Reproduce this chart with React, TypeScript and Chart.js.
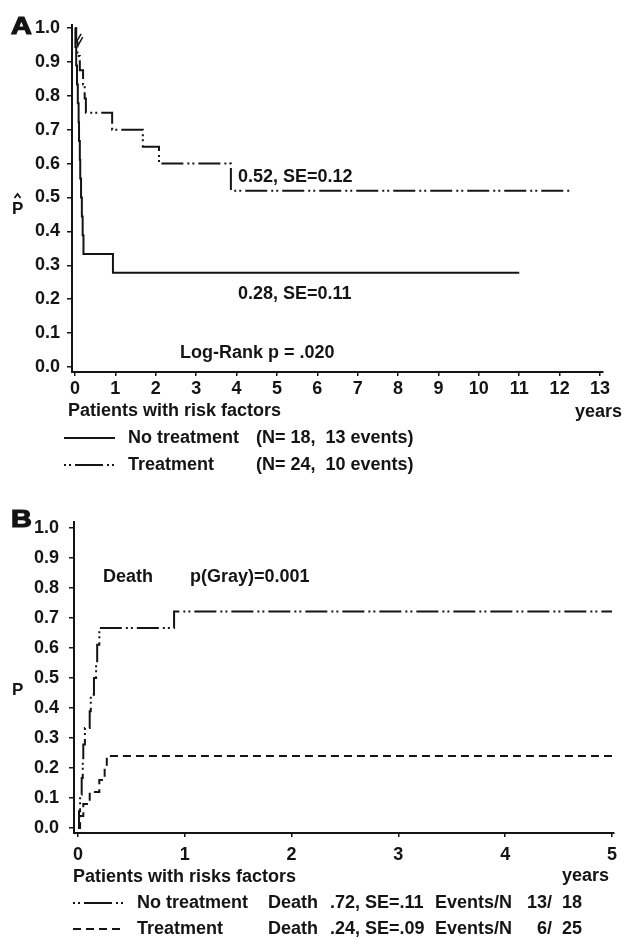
import React, { useEffect, useRef } from "react";
import { Chart, registerables } from "chart.js";

Chart.register(...registerables);

// ---------- Panel A: Kaplan-Meier survival ----------
const aNoTreatTimes = [0, 0.01, 0.03, 0.05, 0.07, 0.09, 0.1, 0.12, 0.13, 0.15, 0.17, 0.19, 0.21, 0.94, 11.0];
const aNoTreatSurv = [1, 0.944, 0.889, 0.833, 0.778, 0.722, 0.667, 0.611, 0.556, 0.5, 0.444, 0.389, 0.333, 0.278, 0.278];
const aTreatTimes = [0, 0.03, 0.06, 0.12, 0.2, 0.24, 0.27, 0.92, 1.68, 2.08, 3.86, 12.25];
const aTreatSurv = [1, 0.958, 0.917, 0.875, 0.833, 0.792, 0.75, 0.7, 0.65, 0.6, 0.52, 0.52];
const aCensorTimes = [0.09, 0.13];
const aCensorSurv = [0.97, 0.96];
const aXTicks = [0, 1, 2, 3, 4, 5, 6, 7, 8, 9, 10, 11, 12, 13];
const aYTicks = [0, 0.1, 0.2, 0.3, 0.4, 0.5, 0.6, 0.7, 0.8, 0.9, 1.0];

// ---------- Panel B: cumulative incidence of death ----------
const bNoTreatTimes = [0, 0.01, 0.02, 0.035, 0.045, 0.05, 0.065, 0.11, 0.12, 0.15, 0.17, 0.18, 0.2, 0.9, 5.0];
const bNoTreatCif = [0, 0.056, 0.111, 0.167, 0.222, 0.278, 0.333, 0.389, 0.444, 0.5, 0.556, 0.611, 0.667, 0.722, 0.722];
const bTreatTimes = [0, 0.02, 0.05, 0.11, 0.2, 0.25, 0.27, 5.0];
const bTreatCif = [0, 0.04, 0.08, 0.12, 0.16, 0.2, 0.24, 0.24];
const bXTicks = [0, 1, 2, 3, 4, 5];
const bYTicks = [0, 0.1, 0.2, 0.3, 0.4, 0.5, 0.6, 0.7, 0.8, 0.9, 1.0];

const INK = "#141414";
const FONT = "'Liberation Sans', Arial, sans-serif";
const DASH_DOT_DOT = [22, 4, 2, 3, 2, 4];
const DASHED = [8, 5];

type Txt = { t: string; x: number; y: number; size?: number };

function pts(xs: number[], ys: number[]) {
  return xs.map((x, i) => ({ x, y: ys[i] }));
}

function makeTextPlugin(id: string, texts: Txt[], extra: (ctx: CanvasRenderingContext2D) => void) {
  return {
    id,
    afterDraw(chart: any) {
      const ctx: CanvasRenderingContext2D = chart.ctx;
      ctx.save();
      ctx.fillStyle = INK;
      ctx.textBaseline = "middle";
      ctx.textAlign = "left";
      for (const tx of texts) {
        ctx.font = `bold ${tx.size || 18}px ${FONT}`;
        ctx.fillText(tx.t, tx.x, tx.y);
      }
      extra(ctx);
      ctx.restore();
    },
  };
}

function bigLetter(ctx: CanvasRenderingContext2D, s: string, x: number, baseline: number) {
  ctx.save();
  ctx.translate(x, baseline);
  ctx.scale(1.2, 1);
  ctx.font = `bold 24px ${FONT}`;
  ctx.textBaseline = "alphabetic";
  ctx.fillStyle = INK;
  ctx.strokeStyle = INK;
  ctx.lineWidth = 1.2;
  ctx.fillText(s, 0, 0);
  ctx.strokeText(s, 0, 0);
  ctx.restore();
}

function sampleLine(ctx: CanvasRenderingContext2D, x1: number, x2: number, y: number, dash: number[]) {
  ctx.save();
  ctx.strokeStyle = INK;
  ctx.lineWidth = 2;
  ctx.setLineDash(dash);
  ctx.beginPath();
  ctx.moveTo(x1, y);
  ctx.lineTo(x2, y);
  ctx.stroke();
  ctx.restore();
}

function axisOpts(ticks: number[], min: number, max: number, fmt: (v: number) => string, fit: (s: any) => void, tickLen: number, pad: number) {
  return {
    type: "linear" as const,
    min,
    max,
    afterBuildTicks: (axis: any) => {
      axis.ticks = ticks.map((v) => ({ value: v }));
    },
    afterFit: fit,
    ticks: {
      color: INK,
      font: { family: FONT, weight: "bold" as const, size: 18 },
      padding: pad,
      autoSkip: false,
      maxRotation: 0,
      callback: (v: any) => fmt(Number(v)),
    },
    grid: {
      display: true,
      drawOnChartArea: false,
      drawTicks: true,
      tickLength: tickLen,
      color: INK,
      lineWidth: 1.5,
    },
    border: { display: true, color: INK, width: 2 },
  };
}

function PanelA() {
  const ref = useRef<HTMLCanvasElement>(null);
  useEffect(() => {
    if (!ref.current) return;
    const texts: Txt[] = [
      { t: "0.52, SE=0.12", x: 238, y: 177 },
      { t: "0.28, SE=0.11", x: 238, y: 294 },
      { t: "Log-Rank p = .020", x: 180, y: 353 },
      { t: "Patients with risk factors", x: 68, y: 411 },
      { t: "years", x: 575, y: 412 },
      { t: "No treatment", x: 128, y: 438 },
      { t: "(N= 18,  13 events)", x: 256, y: 438 },
      { t: "Treatment", x: 128, y: 465 },
      { t: "(N= 24,  10 events)", x: 256, y: 465 },
    ];
    const plugin = makeTextPlugin("textA", texts, (ctx) => {
      ctx.fillStyle = INK;
      bigLetter(ctx, "A", 11, 34);
      ctx.font = `bold 17px ${FONT}`;
      ctx.textBaseline = "alphabetic";
      ctx.fillText("P", 12, 214);
      ctx.strokeStyle = INK;
      ctx.lineWidth = 1.8;
      ctx.setLineDash([]);
      ctx.beginPath();
      ctx.moveTo(14.5, 198);
      ctx.lineTo(17.5, 194);
      ctx.lineTo(20.5, 198);
      ctx.stroke();
      sampleLine(ctx, 64, 115, 438, []);
      sampleLine(ctx, 64, 115, 465, [2, 3, 2, 4, 28, 4]);
    });
    const chart = new Chart(ref.current, {
      type: "line",
      data: {
        datasets: [
          {
            label: "No treatment",
            data: pts(aNoTreatTimes, aNoTreatSurv),
            borderColor: INK,
            borderWidth: 2,
            pointRadius: 0,
            stepped: true,
            fill: false,
          },
          {
            label: "Treatment",
            data: pts(aTreatTimes, aTreatSurv),
            borderColor: INK,
            borderWidth: 2,
            borderDash: DASH_DOT_DOT,
            pointRadius: 0,
            stepped: true,
            fill: false,
          },
          {
            label: "Censored",
            data: pts(aCensorTimes, aCensorSurv),
            showLine: false,
            pointStyle: "line",
            rotation: -60,
            pointRadius: 5,
            pointBorderColor: INK,
            pointBorderWidth: 1.5,
          } as any,
        ],
      },
      options: {
        animation: false,
        responsive: false,
        maintainAspectRatio: false,
        layout: { padding: { top: 25, right: 21, left: 0, bottom: 0 } },
        plugins: { legend: { display: false }, tooltip: { enabled: false }, title: { display: false } },
        scales: {
          x: axisOpts(aXTicks, -0.074, 13.074, (v) => String(v), (s: any) => { s.height = 108; }, 4, 2),
          y: axisOpts(aYTicks, -0.0147, 1.0088, (v) => v.toFixed(1), (s: any) => { s.width = 72; }, 5, 7),
        },
      } as any,
      plugins: [plugin],
    });
    return () => chart.destroy();
  }, []);
  return <canvas ref={ref} width={624} height={480} style={{ position: "absolute", left: 0, top: 0, width: 624, height: 480 }} />;
}

function PanelB() {
  const ref = useRef<HTMLCanvasElement>(null);
  useEffect(() => {
    if (!ref.current) return;
    const o = 480;
    const texts: Txt[] = [
      { t: "Death", x: 103, y: 577 - o },
      { t: "p(Gray)=0.001", x: 190, y: 577 - o },
      { t: "Patients with risks factors", x: 73, y: 877 - o },
      { t: "years", x: 562, y: 876 - o },
      { t: "No treatment", x: 137, y: 903 - o },
      { t: "Death", x: 268, y: 903 - o },
      { t: ".72, SE=.11", x: 330, y: 903 - o },
      { t: "Events/N", x: 435, y: 903 - o },
      { t: "13/", x: 527, y: 903 - o },
      { t: "18", x: 562, y: 903 - o },
      { t: "Treatment", x: 137, y: 929 - o },
      { t: "Death", x: 268, y: 929 - o },
      { t: ".24, SE=.09", x: 330, y: 929 - o },
      { t: "Events/N", x: 435, y: 929 - o },
      { t: "6/", x: 537, y: 929 - o },
      { t: "25", x: 562, y: 929 - o },
    ];
    const plugin = makeTextPlugin("textB", texts, (ctx) => {
      ctx.fillStyle = INK;
      bigLetter(ctx, "B", 11, 527 - o);
      ctx.font = `bold 17px ${FONT}`;
      ctx.textBaseline = "alphabetic";
      ctx.fillText("P", 12, 695 - o);
      sampleLine(ctx, 73, 124, 903 - o, [2, 3, 2, 4, 28, 4]);
      sampleLine(ctx, 73, 124, 929 - o, DASHED);
    });
    const chart = new Chart(ref.current, {
      type: "line",
      data: {
        datasets: [
          {
            label: "No treatment",
            data: pts(bNoTreatTimes, bNoTreatCif),
            borderColor: INK,
            borderWidth: 2,
            borderDash: DASH_DOT_DOT,
            pointRadius: 0,
            stepped: true,
            fill: false,
          },
          {
            label: "Treatment",
            data: pts(bTreatTimes, bTreatCif),
            borderColor: INK,
            borderWidth: 2,
            borderDash: DASHED,
            pointRadius: 0,
            stepped: true,
            fill: false,
          },
        ],
      },
      options: {
        animation: false,
        responsive: false,
        maintainAspectRatio: false,
        layout: { padding: { top: 42, right: 4, left: 0, bottom: 0 } },
        plugins: { legend: { display: false }, tooltip: { enabled: false }, title: { display: false } },
        scales: {
          x: axisOpts(bXTicks, -0.037, 5.019, (v) => String(v), (s: any) => { s.height = 105; }, 4, 7),
          y: axisOpts(bYTicks, -0.0167, 1.02, (v) => v.toFixed(1), (s: any) => { s.width = 74; }, 5, 10),
        },
      } as any,
      plugins: [plugin],
    });
    return () => chart.destroy();
  }, []);
  return <canvas ref={ref} width={624} height={458} style={{ position: "absolute", left: 0, top: 480, width: 624, height: 458 }} />;
}

export default function App() {
  return (
    <div style={{ position: "absolute", left: 0, top: 0, width: 624, height: 938, background: "#fff" }}>
      <PanelA />
      <PanelB />
    </div>
  );
}
